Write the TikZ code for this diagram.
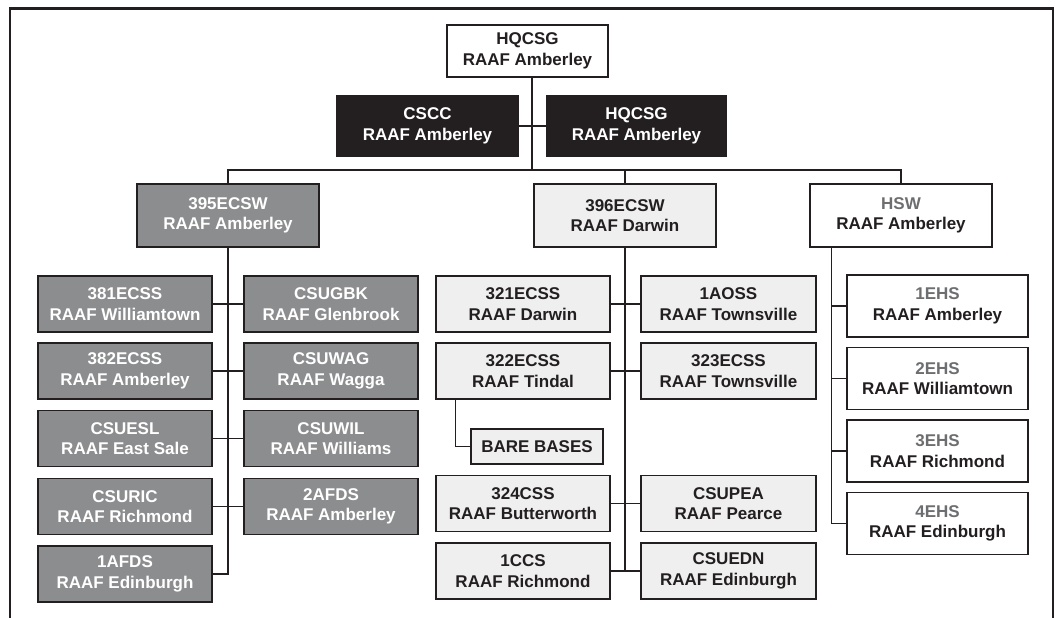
\documentclass[tikz,border=0pt]{standalone}
\usepackage{fontspec}
\setmainfont{Liberation Sans}
\definecolor{dark}{HTML}{231F20}
\definecolor{midgrey}{HTML}{8C8D8F}
\definecolor{lightfill}{HTML}{EEEFEE}
\definecolor{txtgrey}{HTML}{6D6E70}
\begin{document}
\begin{tikzpicture}[x=1pt,y=-1pt,
  every node/.style={font=\fontsize{17}{20.5}\selectfont\bfseries, align=center, inner sep=0pt, rectangle},
  topbox/.style={draw=dark, line width=1.5pt, fill=white, text=dark, minimum width=161pt, minimum height=52pt},
  blackbox/.style={draw=dark, line width=1.5pt, fill=dark, text=white, minimum width=181pt, minimum height=60pt},
  wingA/.style={draw=dark, line width=1.8pt, fill=midgrey, text=white, minimum width=182pt, minimum height=63pt},
  wingB/.style={draw=dark, line width=1.5pt, fill=lightfill, text=dark, minimum width=182pt, minimum height=63pt},
  wingC/.style={draw=dark, line width=1.5pt, fill=white, text=dark, minimum width=182pt, minimum height=63pt},
  greybox/.style={draw=dark, line width=1.8pt, fill=midgrey, text=white, minimum width=174pt, minimum height=56pt},
  lightbox/.style={draw=dark, line width=1.5pt, fill=lightfill, text=dark, minimum width=174pt, minimum height=56pt},
  whitebox/.style={draw=dark, line width=1.5pt, fill=white, text=dark, minimum width=181pt, minimum height=62pt},
  conn/.style={draw=dark, line width=1.5pt}
]
\useasboundingbox (0,0) rectangle (1060,618);
% frame
\draw[dark, line width=2.5pt] (10,618) -- (10,8.5) -- (1053,8.5) -- (1053,618);

% top levels
\node[topbox] (top) at (527.5,51) {HQCSG\\RAAF Amberley};
\node[blackbox] (cscc) at (427.5,126) {CSCC\\RAAF Amberley};
\node[blackbox, minimum width=179pt] (hq2) at (636.5,126) {HQCSG\\RAAF Amberley};

\node[wingA] (w395) at (228,215.5) {395ECSW\\RAAF Amberley};
\node[wingB] (w396) at (625,215.5) {396ECSW\\RAAF Darwin};
\node[wingC] (hsw) at (901,215.5) {{\color{txtgrey}HSW}\\RAAF Amberley};

% 395 group
\node[greybox] (l1) at (125,304) {381ECSS\\RAAF Williamtown};
\node[greybox] (l2) at (125,371) {382ECSS\\RAAF Amberley};
\node[greybox] (l3) at (125,438.5) {CSUESL\\RAAF East Sale};
\node[greybox] (l4) at (125,506.5) {CSURIC\\RAAF Richmond};
\node[greybox] (l5) at (125,574) {1AFDS\\RAAF Edinburgh};
\node[greybox] (r1) at (331,304) {CSUGBK\\RAAF Glenbrook};
\node[greybox] (r2) at (331,371) {CSUWAG\\RAAF Wagga};
\node[greybox] (r3) at (331,438.5) {CSUWIL\\RAAF Williams};
\node[greybox] (r4) at (331,506.5) {2AFDS\\RAAF Amberley};

% 396 group
\node[lightbox] (m1) at (523,304) {321ECSS\\RAAF Darwin};
\node[lightbox] (m2) at (523,371) {322ECSS\\RAAF Tindal};
\node[lightbox] (m3) at (523,503.5) {324CSS\\RAAF Butterworth};
\node[lightbox] (m4) at (523,571) {1CCS\\RAAF Richmond};
\node[lightbox, minimum width=175pt] (n1) at (728.5,304) {1AOSS\\RAAF Townsville};
\node[lightbox, minimum width=175pt] (n2) at (728.5,371) {323ECSS\\RAAF Townsville};
\node[lightbox, minimum width=175pt] (n3) at (728.5,503.5) {CSUPEA\\RAAF Pearce};
\node[lightbox, minimum width=175pt] (n4) at (728.5,571) {CSUEDN\\RAAF Edinburgh};
\node[lightbox, minimum width=132pt, minimum height=35pt] (bb) at (537,446.5) {BARE BASES};

% HSW group
\node[whitebox] (h1) at (937.5,306) {{\color{txtgrey}1EHS}\\RAAF Amberley};
\node[whitebox] (h2) at (937.5,378.5) {{\color{txtgrey}2EHS}\\RAAF Williamtown};
\node[whitebox] (h3) at (937.5,451) {{\color{txtgrey}3EHS}\\RAAF Richmond};
\node[whitebox] (h4) at (937.5,523.5) {{\color{txtgrey}4EHS}\\RAAF Edinburgh};

% connectors
\coordinate (bar) at (532,170);
\draw[conn] (top.south -| bar) -- (bar);
\draw[conn] (cscc.east) -- (hq2.west);
\draw[conn] (w395.north) |- (bar) -| (hsw.north);
\draw[conn] (w396.north) -- (w396.north |- bar);

\draw[conn] (w395.south) |- (l5.east);
\foreach \i in {1,2,3,4} {\draw[conn] (l\i.east) -- (r\i.west);}

\draw[conn] (w396.south) -- (w396.south |- m4.east);
\foreach \i in {1,2,3,4} {\draw[conn] (m\i.east) -- (n\i.west);}
\draw[conn] ([xshift=20pt]m2.south west) |- (bb.west);

\coordinate (hv) at ([xshift=22pt]hsw.south west);
\draw[conn] (hv) |- (h4.west);
\foreach \i in {1,2,3} {\draw[conn] (h\i.west) -- (h\i.west -| hv);}
\end{tikzpicture}
\end{document}
